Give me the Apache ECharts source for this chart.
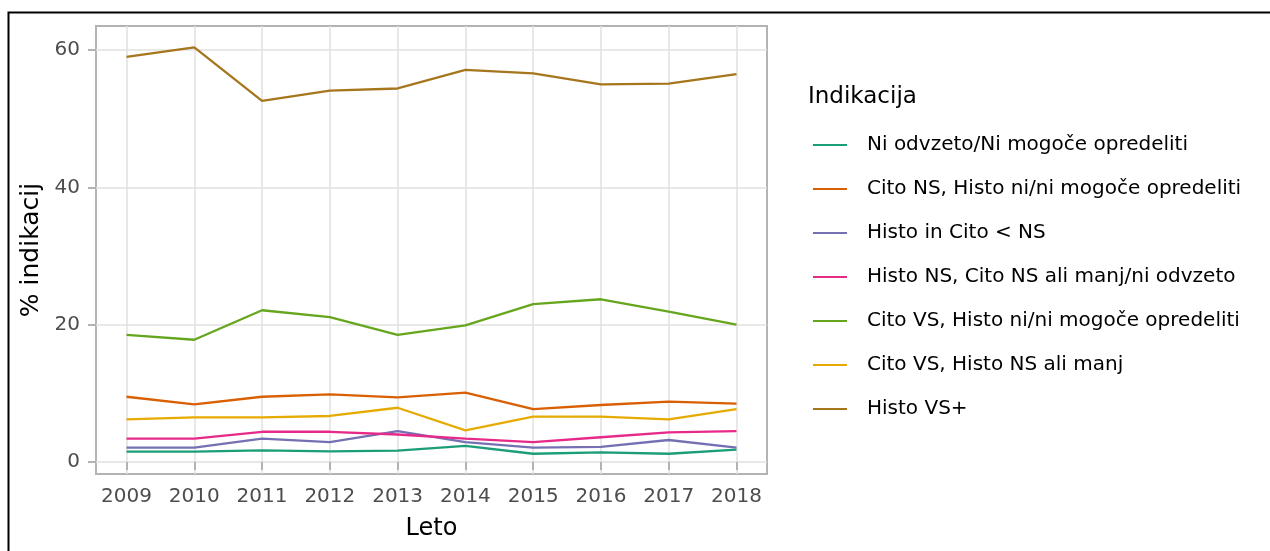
<!DOCTYPE html>
<html>
<head>
<meta charset="utf-8">
<script src="https://cdn.jsdelivr.net/npm/echarts@6/dist/echarts.min.js"></script>
<style>
html, body { margin: 0; padding: 0; background: #fff; }
#main { width: 1270px; height: 551px; }
</style>
</head>
<body>
<div id="main"></div>
<script>
// leta in deleži indikacij (%)
var years = [2009, 2010, 2011, 2012, 2013, 2014, 2015, 2016, 2017, 2018];
var seriesNames = [
	'Ni odvzeto/Ni mogoče opredeliti',
	'Cito NS, Histo ni/ni mogoče opredeliti',
	'Histo in Cito < NS',
	'Histo NS, Cito NS ali manj/ni odvzeto',
	'Cito VS, Histo ni/ni mogoče opredeliti',
	'Cito VS, Histo NS ali manj',
	'Histo VS+'
];
var niOdvzeto   = [1.5, 1.5, 1.7, 1.55, 1.65, 2.35, 1.2, 1.4, 1.2, 1.8];
var citoNsHisto = [9.5, 8.4, 9.5, 9.85, 9.4, 10.1, 7.7, 8.3, 8.8, 8.5];
var histoCito   = [2.1, 2.1, 3.4, 2.9, 4.5, 2.9, 2.1, 2.2, 3.2, 2.1];
var histoNs     = [3.4, 3.4, 4.4, 4.4, 4.0, 3.4, 2.9, 3.6, 4.3, 4.5];
var citoVsHisto = [18.5, 17.8, 22.1, 21.1, 18.5, 19.9, 23.0, 23.7, 21.9, 20.0];
var citoVsNs    = [6.2, 6.5, 6.5, 6.7, 7.9, 4.6, 6.6, 6.6, 6.2, 7.7];
var histoVs     = [59.0, 60.4, 52.6, 54.1, 54.4, 57.1, 56.6, 55.0, 55.1, 56.5];
var yTicks = [0, 20, 40, 60];

var values = [niOdvzeto, citoNsHisto, histoCito, histoNs, citoVsHisto, citoVsNs, histoVs];
var colors = ['#1B9E77', '#D95F02', '#7570B3', '#E7298A', '#66A61E', '#E6AB02', '#A6761D'];
var font = 'DejaVu Sans';

var chart = echarts.init(document.getElementById('main'));

var series = [];
var legendData = [];
for (var i = 0; i < seriesNames.length; i++) {
	var pts = [];
	for (var j = 0; j < years.length; j++) {
		pts.push([years[j], values[i][j]]);
	}
	series.push({
		name: seriesNames[i],
		type: 'line',
		data: pts,
		symbol: 'none',
		silent: true,
		animation: false,
		lineStyle: { color: colors[i], width: 2.3 },
		itemStyle: { color: colors[i] }
	});
	legendData.push({ name: seriesNames[i], icon: 'path://M0,0H34V2H0Z' });
}

var option = {
	backgroundColor: '#fff',
	animation: false,
	title: {
		text: 'Indikacija',
		left: 808,
		top: 86,
		padding: 0,
		textStyle: { fontFamily: font, fontSize: 23, fontWeight: 'normal', color: '#000' }
	},
	grid: {
		left: 96,
		top: 26,
		width: 671,
		height: 448,
		show: true,
		borderColor: '#B3B3B3',
		borderWidth: 2,
		backgroundColor: 'transparent'
	},
	legend: {
		orient: 'vertical',
		left: 813,
		top: 135,
		padding: 0,
		itemWidth: 34,
		itemHeight: 2,
		itemGap: 24,
		selectedMode: false,
		textStyle: {
			fontFamily: font,
			fontSize: 20,
			lineHeight: 20,
			color: '#000',
			padding: [0, 0, 0, 15]
		},
		data: legendData
	},
	xAxis: {
		type: 'value',
		min: 2008.55,
		max: 2018.45,
		splitNumber: 10,
		minInterval: 1,
		maxInterval: 1,
		name: 'Leto',
		nameLocation: 'middle',
		nameGap: 43,
		nameTextStyle: { fontFamily: font, fontSize: 24, color: '#000' },
		axisLine: { show: false },
		axisTick: {
			show: true,
			length: 8,
			customValues: years,
			lineStyle: { color: '#B3B3B3', width: 2 }
		},
		axisLabel: {
			margin: 13,
			customValues: years,
			fontFamily: font,
			fontSize: 20,
			color: '#4D4D4D',
			formatter: function (v) { return Math.abs(v - Math.round(v)) < 1e-6 ? String(Math.round(v)) : ''; }
		},
		splitLine: { show: true, lineStyle: { color: '#E0E0E0', width: 1.5 } }
	},
	yAxis: {
		type: 'value',
		min: -1.75,
		max: 63.5,
		splitNumber: 6,
		minInterval: 10,
		maxInterval: 10,
		name: '% indikacij',
		nameLocation: 'middle',
		nameRotate: 90,
		nameGap: 38,
		nameTextStyle: { fontFamily: font, fontSize: 25, color: '#000' },
		axisLine: { show: false },
		axisTick: {
			show: true,
			length: 8,
			customValues: yTicks,
			lineStyle: { color: '#B3B3B3', width: 2 }
		},
		axisLabel: {
			margin: 16,
			customValues: yTicks,
			fontFamily: font,
			fontSize: 20,
			color: '#4D4D4D',
			formatter: function (v) { return (Math.abs(v % 20) < 1e-6 && v >= 0) ? String(v) : ''; }
		},
		splitLine: { show: true, lineStyle: { color: '#E0E0E0', width: 1.5 } }
	},
	graphic: [{
		type: 'rect',
		left: 6,
		top: 10,
		shape: { width: 1300, height: 600 },
		style: { fill: 'none', stroke: '#000', lineWidth: 2 },
		silent: true
	}],
	series: series
};

chart.setOption(option);
</script>
</body>
</html>
